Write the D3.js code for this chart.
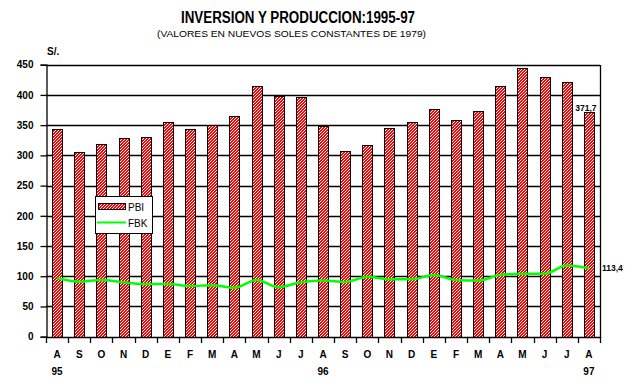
<!DOCTYPE html>
<html>
<head>
<meta charset="utf-8">
<script src="https://cdn.jsdelivr.net/npm/d3@7"></script>
<style>
  html, body { margin: 0; padding: 0; background: #fff; }
  text { font-family: "Liberation Sans", Arial, sans-serif; }
</style>
</head>
<body>
<div id="chart"></div>
<script>
'use strict'

// months from Aug 95 to Aug 97
const months = ["A","S","O","N","D","E","F","M","A","M","J","J","A","S","O","N","D","E","F","M","A","M","J","J","A"]
const yearLabels = ["95","","","","","","","","","","","","96","","","","","","","","","","","","97"]

// PBI (bars) and FBK (line), nuevos soles constantes de 1979
const pbi = [343,305,318,328,330,355,343,351,365,415,399,396,348,307,317,346,356,376,358,373,414,444,429,421,371.7]
const fbk = [97,91,94,90,87,87,84,85,81,94,82,90,93,90.5,99,95,95,102,94,93,102,104,104,118,113.4]

const yTicks = [0,50,100,150,200,250,300,350,400,450]

////////////////////////////////////
//////////// svg setup /////////////
////////////////////////////////////

const svgWidth = 637
const svgHeight = 388

const plot = { left: 46, right: 600, top: 64.7, bottom: 336.7 }

const svg = d3.select('#chart')
    .append('svg')
    .attr('width', svgWidth)
    .attr('height', svgHeight)

// hatch pattern for bars: red with crisp white "/" pixel stripes
const defs = svg.append('defs')
const pat = defs.append('pattern')
    .attr('id', 'hatch')
    .attr('patternUnits', 'userSpaceOnUse')
    .attr('width', 3)
    .attr('height', 3)
pat.append('rect').attr('width', 3).attr('height', 3).attr('fill', '#ff0000')
pat.selectAll('rect.px')
    .data([[2,0],[1,1],[0,2]])
    .join('rect')
    .attr('class', 'px')
    .attr('x', d => d[0]).attr('y', d => d[1])
    .attr('width', 1).attr('height', 1)
    .attr('fill', '#fff')
    .attr('shape-rendering', 'crispEdges')

////////////////////////////////////
//////////// Scales ////////////////
////////////////////////////////////

const x = d3.scaleBand()
    .domain(d3.range(months.length))
    .range([plot.left, plot.right])
    .padding(0)

const y = d3.scaleLinear()
    .domain([0, 450])
    .range([plot.bottom, plot.top])

const barW = x.bandwidth() * 0.45

////////////////////////////////////
//////////// titles ////////////////
////////////////////////////////////

svg.append('text')
    .attr('x', 181).attr('y', 23)
    .attr('textLength', 234)
    .attr('lengthAdjust', 'spacingAndGlyphs')
    .style('font-size', '16px').style('font-weight', 'bold')
    .text('INVERSION Y PRODUCCION:1995-97')

svg.append('text')
    .attr('x', 157).attr('y', 37)
    .attr('textLength', 269)
    .attr('lengthAdjust', 'spacingAndGlyphs')
    .style('font-size', '9.5px')
    .text('(VALORES EN NUEVOS SOLES CONSTANTES DE 1979)')

svg.append('text')
    .attr('x', 47).attr('y', 55)
    .style('font-size', '10px').style('font-weight', 'bold')
    .text('S/.')

////////////////////////////////////
//////////// grid & axes ///////////
////////////////////////////////////

svg.append('g')
    .selectAll('line')
    .data(yTicks.filter(d => d > 0))
    .join('line')
    .attr('x1', plot.left).attr('x2', plot.right)
    .attr('y1', d => Math.round(y(d)) + 0.5).attr('y2', d => Math.round(y(d)) + 0.5)
    .attr('stroke', '#000').attr('stroke-width', 1.3)

// right border
svg.append('line')
    .attr('x1', plot.right + 0.5).attr('x2', plot.right + 0.5)
    .attr('y1', Math.round(plot.top)).attr('y2', Math.round(plot.bottom) + 1)
    .attr('stroke', '#000').attr('stroke-width', 1.3)

const yAxis = svg.append('g')
    .attr('transform', `translate(${plot.left + 0.5},0)`)
    .call(d3.axisLeft(y).tickValues(yTicks).tickSize(6).tickPadding(7).tickFormat(d3.format('d')))
yAxis.select('.domain').attr('stroke-width', 1.3)
yAxis.selectAll('.tick line').attr('stroke-width', 1.3)
yAxis.selectAll('text')
    .style('font-family', '"Liberation Sans", Arial, sans-serif')
    .style('font-size', '10px').style('font-weight', 'bold')
    .attr('fill', '#000')

////////////////////////////////////
//////////// bars //////////////////
////////////////////////////////////

svg.append('g')
    .selectAll('rect')
    .data(pbi)
    .join('rect')
    .attr('x', (d, i) => Math.round(x(i) + x.bandwidth() / 2 - barW / 2) + 0.5)
    .attr('y', d => Math.round(y(d)) + 0.5)
    .attr('width', Math.round(barW))
    .attr('height', d => Math.round(plot.bottom) - Math.round(y(d)))
    .attr('fill', 'url(#hatch)')
    .attr('stroke', '#000')
    .attr('stroke-width', 1)

// x axis line and ticks
svg.append('line')
    .attr('x1', plot.left).attr('x2', plot.right + 1)
    .attr('y1', Math.round(plot.bottom) + 0.5).attr('y2', Math.round(plot.bottom) + 0.5)
    .attr('stroke', '#000').attr('stroke-width', 1.3)

svg.append('g')
    .selectAll('line')
    .data(d3.range(months.length + 1))
    .join('line')
    .attr('x1', i => Math.round(plot.left + i * x.step()) + 0.5)
    .attr('x2', i => Math.round(plot.left + i * x.step()) + 0.5)
    .attr('y1', Math.round(plot.bottom))
    .attr('y2', Math.round(plot.bottom) + 6)
    .attr('stroke', '#000').attr('stroke-width', 1.3)

svg.append('g')
    .selectAll('text')
    .data(months)
    .join('text')
    .attr('x', (d, i) => x(i) + x.bandwidth() / 2)
    .attr('y', 358)
    .attr('text-anchor', 'middle')
    .style('font-size', '10px').style('font-weight', 'bold')
    .text(d => d)

svg.append('g')
    .selectAll('text')
    .data(yearLabels)
    .join('text')
    .attr('x', (d, i) => x(i) + x.bandwidth() / 2)
    .attr('y', 375)
    .attr('text-anchor', 'middle')
    .style('font-size', '10px').style('font-weight', 'bold')
    .text(d => d)

////////////////////////////////////
//////////// FBK line //////////////
////////////////////////////////////

const line = d3.line()
    .x((d, i) => x(i) + x.bandwidth() / 2)
    .y(d => y(d))
    .curve(d3.curveMonotoneX)

svg.append('path')
    .datum(fbk)
    .attr('d', line)
    .attr('fill', 'none')
    .attr('stroke', '#00ff00')
    .attr('stroke-width', 2.5)

// end value labels
const last = pbi.length - 1
svg.append('text')
    .attr('x', x(last) + x.bandwidth() / 2 - 3)
    .attr('y', y(pbi[last]) - 1)
    .attr('text-anchor', 'middle')
    .style('font-size', '8.5px').style('font-weight', 'bold')
    .text('371,7')

svg.append('text')
    .attr('x', 602)
    .attr('y', y(fbk[last]) + 3)
    .style('font-size', '8.5px').style('font-weight', 'bold')
    .text('113,4')

////////////////////////////////////
//////////// legend ////////////////
////////////////////////////////////

const legend = svg.append('g')

legend.append('rect')
    .attr('x', 95.5).attr('y', 196.5)
    .attr('width', 57).attr('height', 37)
    .attr('fill', '#fff').attr('stroke', '#000').attr('stroke-width', 1)

legend.append('rect')
    .attr('x', 98.5).attr('y', 203.5)
    .attr('width', 27).attr('height', 6)
    .attr('fill', 'url(#hatch)').attr('stroke', '#000').attr('stroke-width', 1)

legend.append('text')
    .attr('x', 128).attr('y', 210.5)
    .style('font-size', '10px')
    .text('PBI')

legend.append('line')
    .attr('x1', 97).attr('x2', 126)
    .attr('y1', 222.5).attr('y2', 222.5)
    .attr('stroke', '#00ff00').attr('stroke-width', 2)

legend.append('text')
    .attr('x', 128).attr('y', 226.5)
    .style('font-size', '10px')
    .text('FBK')
</script>
</body>
</html>
